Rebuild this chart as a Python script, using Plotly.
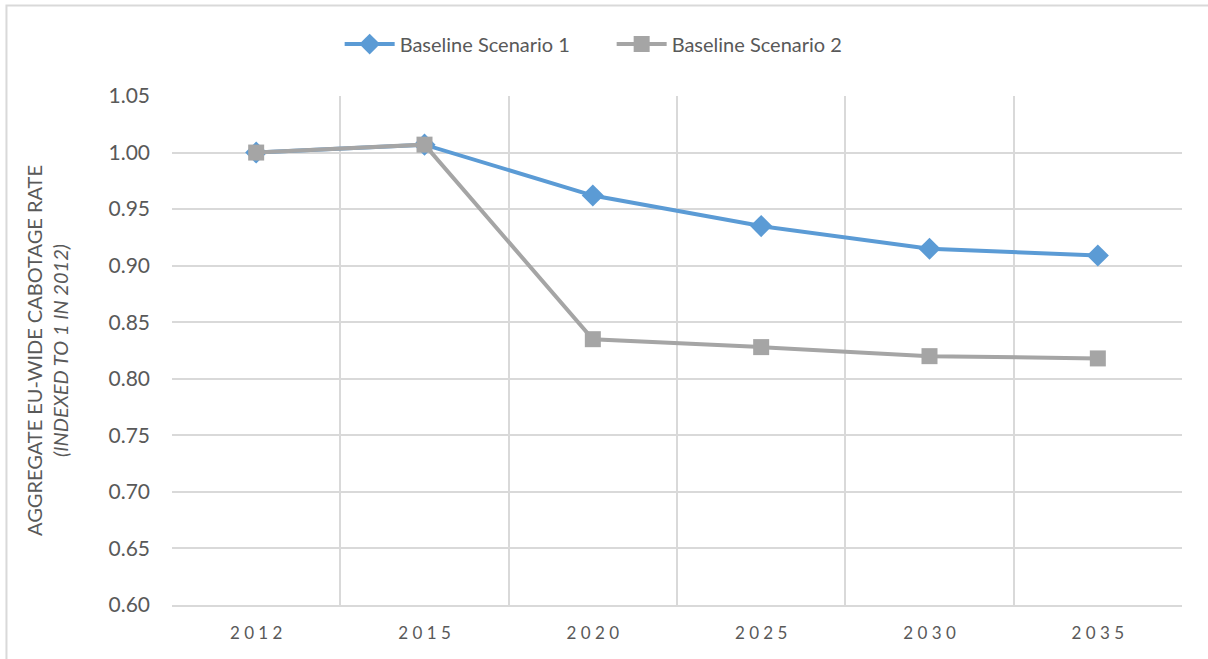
import plotly.graph_objects as go

# chart data
years = ["2012", "2015", "2020", "2025", "2030", "2035"]
scenario_1 = [1.000, 1.007, 0.962, 0.935, 0.915, 0.909]
scenario_2 = [1.000, 1.007, 0.835, 0.828, 0.820, 0.818]

# spaced-out tick text, like the original
year_labels = [" ".join(y) for y in years]

fig = go.Figure()

fig.add_trace(go.Scatter(
    x=years, y=scenario_1, name="Baseline Scenario 1",
    mode="lines+markers",
    line=dict(color="#5b9bd5", width=4),
    marker=dict(symbol="diamond", size=17, color="#5b9bd5"),
))
fig.add_trace(go.Scatter(
    x=years, y=scenario_2, name="Baseline Scenario 2",
    mode="lines+markers",
    line=dict(color="#a5a5a5", width=4),
    marker=dict(symbol="square", size=16, color="#a5a5a5"),
))

grid = "#d9d9d9"
text_col = "#595959"

fig.update_layout(
    width=1208, height=659,
    margin=dict(l=172, r=26, t=96, b=54),
    paper_bgcolor="white", plot_bgcolor="white",
    font=dict(family="Lato", color=text_col, size=18),
    showlegend=True,
    legend=dict(
        orientation="h", x=0.166, xanchor="left", y=1.102, yanchor="middle",
        font=dict(size=20, color=text_col), itemwidth=50, traceorder="normal",
        entrywidth=207,
    ),
    xaxis=dict(
        type="category", range=[-0.5, 5.5],
        tickmode="array", tickvals=years, ticktext=year_labels,
        tickson="boundaries", ticks="",
        showgrid=True, gridcolor=grid, gridwidth=2,
        showline=True, linecolor=grid, linewidth=2,
        tickfont=dict(size=17, color=text_col),
        ticklabelstandoff=12,
    ),
    yaxis=dict(
        range=[0.60, 1.05], dtick=0.05, tickformat=".2f",
        showgrid=True, gridcolor=grid, gridwidth=2,
        zeroline=False, showline=False,
        tickfont=dict(size=21, color=text_col),
        ticklabelstandoff=21,
        title=dict(
            text="AGGREGATE EU-WIDE CABOTAGE RATE<br><i>(INDEXED TO 1 IN 2012)</i>",
            font=dict(size=20, color=text_col), standoff=34,
        ),
    ),
)

# light outer frame, open on the right and bottom like the original
fig.add_shape(
    type="rect", xref="paper", yref="paper",
    x0=-0.1639, y0=-0.3, x1=1.2, y1=1.1778,
    line=dict(color=grid, width=2), fillcolor="rgba(0,0,0,0)", layer="below",
)

# drop the browser's default body margin so the figure fills the window
fig.write_html(
    "out.html",
    config={"displayModeBar": False},
    post_script="document.body.style.margin = '0';",
)
